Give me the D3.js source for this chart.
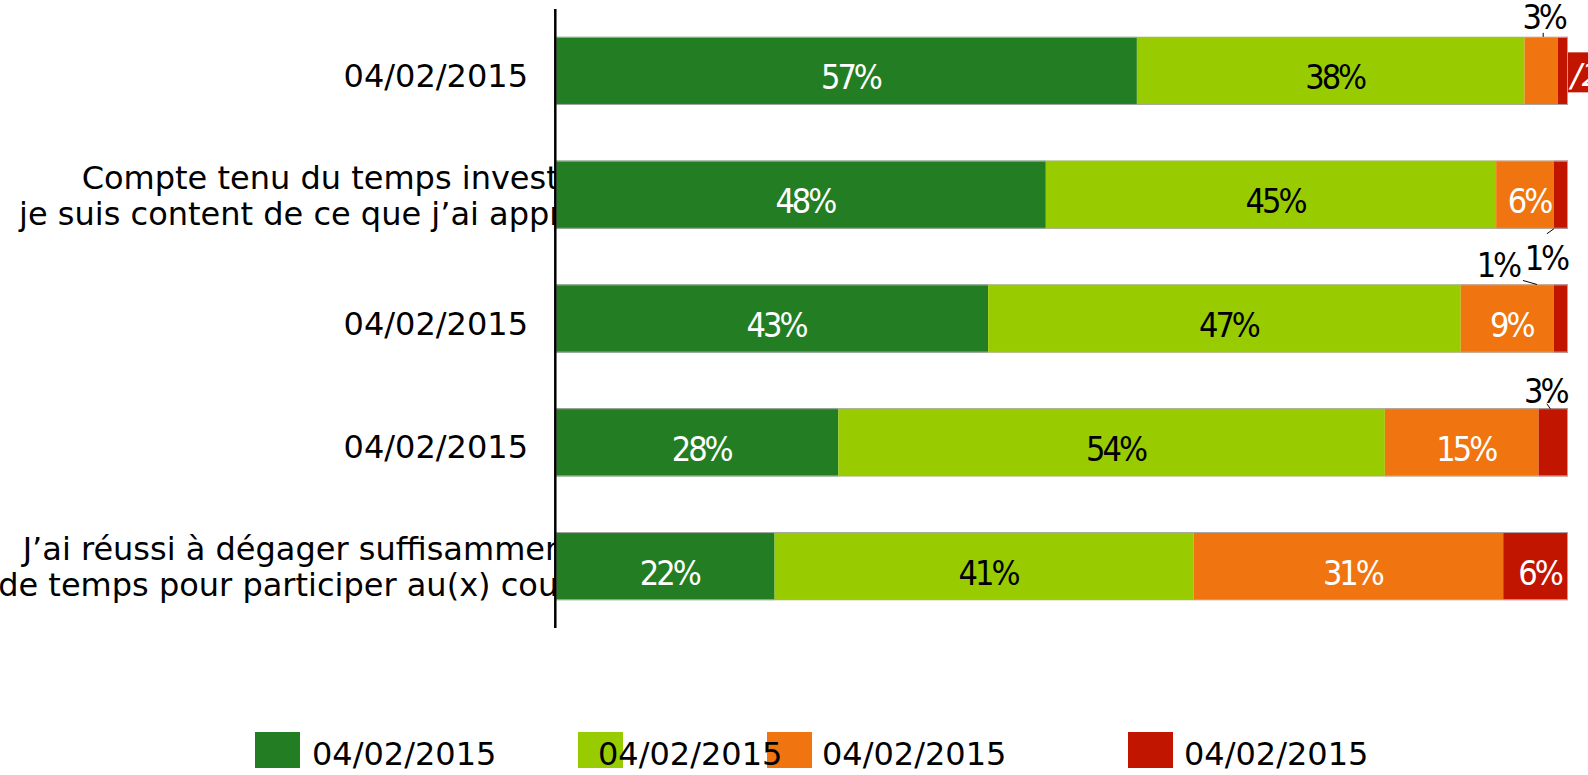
<!DOCTYPE html>
<html>
<head>
  <meta charset="utf-8">
  <title>D3.js Chart</title>
  <script src="https://d3js.org/d3.v7.min.js"></script>
  <style>
    body { margin: 0; background: white; }
    svg { display: block; }
  </style>
</head>
<body>
  <div id="chart"></div>
  <script>
    // category labels (already split into lines)
    var categoryLines = [
      ["04/02/2015"],
      ["Compte tenu du temps investi, ", "je suis content de ce que j\u2019ai appris"],
      ["04/02/2015"],
      ["04/02/2015"],
      ["J\u2019ai r\u00e9ussi \u00e0 d\u00e9gager suffisamment ", "de temps pour participer au(x) cours"]
    ];
    var seriesNames = ["04/02/2015", "04/02/2015", "04/02/2015", "04/02/2015"];
    var seriesColors = ["#237d23", "#99cc00", "#f0740f", "#c21500"];
    var labelColors = ["white", "black", "white", "white"];

    var darkGreen = [57.4, 48.4, 42.7, 27.9, 21.6];
    var lightGreen = [38.3, 44.5, 46.7, 54.0, 41.4];
    var orange = [3.3, 5.7, 9.2, 15.2, 30.6];
    var red = [1.0, 1.4, 1.4, 2.9, 6.4];

    var width = 1588, height = 775;
    var svg = d3.select("#chart").append("svg")
      .attr("width", width).attr("height", height);

    var x = d3.scaleLinear().domain([0, 100]).range([556, 1568]);
    var y = d3.scaleBand().domain(d3.range(categoryLines.length))
      .range([9, 628]).paddingInner(0.45).paddingOuter(0.225);

    var rows = categoryLines.map(function (c, i) {
      var vals = [darkGreen[i], lightGreen[i], orange[i], red[i]];
      var acc = 0;
      return vals.map(function (v, s) {
        var seg = { row: i, s: s, v: v, x0: acc, x1: acc + v };
        acc += v;
        return seg;
      });
    });
    var segs = rows.flat();

    // bars
    svg.append("g").selectAll("rect")
      .data(segs).enter().append("rect")
      .attr("x", function (d) { return x(d.x0); })
      .attr("y", function (d) { return y(d.row); })
      .attr("width", function (d) { return x(d.x1) - x(d.x0); })
      .attr("height", y.bandwidth())
      .attr("fill", function (d) { return seriesColors[d.s]; });

    // thin grey outline around each row
    svg.append("g").selectAll("rect")
      .data(rows).enter().append("rect")
      .attr("x", x(0))
      .attr("y", function (d, i) { return y(i) + 0.5; })
      .attr("width", function (d) { return x(d[3].x1) - x(0) - 0.5; })
      .attr("height", y.bandwidth() - 1)
      .attr("fill", "none")
      .attr("stroke", "#a8a8a8")
      .attr("stroke-width", 1);

    // labels that sit outside the bars, offsets from the segment centre / bar edge
    var outside = {
      "0-2": { dx: 4.5, base: "top", dy: -7.5, leader: [[2, -4], [2, 0]] },
      "1-3": { dx: -13, base: "bottom", dy: 41, leader: [[-14, 5], [-7, 0]] },
      "2-3": { dx: -61, base: "top", dy: -7, leader: [[-38, -4], [-24, 0]] },
      "3-3": { dx: -6, base: "top", dy: -5.5, leader: [[-6.5, -4.5], [-3, 0.5]] }
    };

    var labelFont = "'DejaVu Sans Condensed', sans-serif";
    var gl = svg.append("g").attr("font-family", labelFont).attr("font-size", 34)
      .attr("letter-spacing", -3);

    segs.forEach(function (d) {
      var key = d.row + "-" + d.s;
      var cx = (x(d.x0) + x(d.x1)) / 2;
      var txt = Math.round(d.v) + "%";
      var o = outside[key];
      if (o) {
        var by = o.base === "top" ? y(d.row) : y(d.row) + y.bandwidth();
        gl.append("text").attr("x", cx + o.dx - 2).attr("y", by + o.dy)
          .attr("text-anchor", "middle").attr("fill", "black").text(txt);
        gl.append("line")
          .attr("x1", cx + o.leader[0][0]).attr("y1", by + o.leader[0][1])
          .attr("x2", cx + o.leader[1][0]).attr("y2", by + o.leader[1][1])
          .attr("stroke", "black").attr("stroke-width", 1);
      } else if (key === "0-3") {
        // boxed label pushed past the plot edge
        gl.append("rect").attr("x", x(d.x1)).attr("y", y(d.row) + 15.5)
          .attr("width", 40).attr("height", 40).attr("fill", seriesColors[3]);
        gl.append("text").attr("x", x(d.x1) + 3).attr("y", y(d.row) + 49)
          .attr("font-family", "DejaVu Sans").attr("font-size", 32)
          .attr("letter-spacing", 0)
          .attr("font-style", "italic")
          .attr("fill", "white").text("/2");
      } else {
        gl.append("text").attr("x", cx + 4)
          .attr("y", y(d.row) + y.bandwidth() / 2 + 18.5)
          .attr("text-anchor", "middle")
          .attr("fill", labelColors[d.s]).text(txt);
      }
    });

    // category labels, clipped at the axis
    svg.append("clipPath").attr("id", "catclip")
      .append("rect").attr("x", 0).attr("y", 0).attr("width", x(0) - 1).attr("height", height);

    var gc = svg.append("g").attr("clip-path", "url(#catclip)")
      .attr("font-family", "'DejaVu Sans', sans-serif").attr("font-size", 32)
      .attr("fill", "black");
    var lineH = 36;
    categoryLines.forEach(function (lines, i) {
      var cy = y(i) + y.bandwidth() / 2;
      var ax = lines.length > 1 ? x(0) + 32 : x(0) - 28;
      var t = gc.append("text").attr("text-anchor", "end")
        .attr("xml:space", "preserve").style("white-space", "pre");
      lines.forEach(function (ln, k) {
        t.append("tspan").attr("x", ax)
          .attr("y", cy + 16 - (lines.length - 1) * 22 + k * lineH)
          .text(ln);
      });
    });

    // axis line
    svg.append("line")
      .attr("x1", x(0) - 0.7).attr("x2", x(0) - 0.7)
      .attr("y1", 9).attr("y2", 628)
      .attr("stroke", "black").attr("stroke-width", 2.5);

    // legend
    var legendBoxX = [255, 578, 767, 1128];
    var legendTextX = [312, 598, 822, 1184];
    var lg = svg.append("g");
    lg.selectAll("rect").data(seriesNames).enter().append("rect")
      .attr("x", function (d, i) { return legendBoxX[i]; })
      .attr("y", 732).attr("width", 45).attr("height", 36)
      .attr("fill", function (d, i) { return seriesColors[i]; });
    lg.selectAll("text").data(seriesNames).enter().append("text")
      .attr("x", function (d, i) { return legendTextX[i]; })
      .attr("y", 765)
      .attr("font-family", "'DejaVu Sans', sans-serif").attr("font-size", 32)
      .attr("fill", "black")
      .text(function (d) { return d; });
  </script>
</body>
</html>
